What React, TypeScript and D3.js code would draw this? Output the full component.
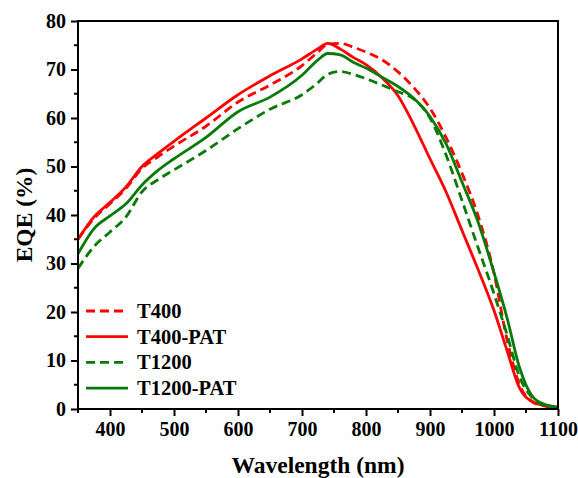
import * as d3 from "d3";
import { useEffect, useRef } from "react";

// shared wavelength grid (nm)
const wavelengths = [350, 375, 400, 425, 450, 475, 500, 550, 600, 650, 700, 725, 740, 760, 780, 800, 825, 850, 875, 900, 925, 950, 975, 1000, 1020, 1040, 1060, 1080, 1100];

const t400 = [35.0, 39.3, 42.3, 45.5, 49.6, 52.0, 54.2, 58.3, 63.3, 66.8, 70.8, 73.6, 75.2, 75.4, 74.6, 73.6, 72.0, 69.5, 66.2, 62.0, 56.0, 48.6, 39.9, 28.0, 14.5, 5.0, 1.5, 0.6, 0.3];
const t400pat = [35.0, 39.6, 42.6, 45.8, 50.0, 52.7, 55.2, 60.0, 64.8, 68.7, 72.2, 74.3, 75.4, 74.2, 72.5, 71.0, 68.3, 64.6, 58.5, 51.6, 44.8, 36.8, 28.8, 20.3, 12.2, 4.3, 1.5, 0.7, 0.4];
const t1200 = [29.0, 33.5, 36.5, 39.6, 44.8, 47.3, 49.3, 53.3, 57.8, 61.8, 64.8, 67.3, 69.0, 69.6, 69.0, 68.1, 66.8, 65.4, 63.9, 60.0, 52.4, 43.0, 33.3, 23.8, 15.5, 6.6, 2.3, 0.7, 0.3];
const t1200pat = [32.0, 37.2, 39.8, 42.3, 46.2, 49.2, 51.6, 56.0, 61.3, 64.3, 68.8, 72.0, 73.3, 73.0, 71.5, 70.3, 68.4, 66.5, 64.0, 60.3, 54.7, 46.8, 38.6, 28.1, 19.0, 8.5, 2.6, 0.9, 0.4];

const seriesNames = ["T400", "T400-PAT", "T1200", "T1200-PAT"];
const seriesValues = [t400, t400pat, t1200, t1200pat];
const seriesColors = ["#ff0000", "#ff0000", "#087a08", "#087a08"];
const seriesDashed = [true, false, true, false];

const xTicks = [400, 500, 600, 700, 800, 900, 1000, 1100];
const yTicks = [0, 10, 20, 30, 40, 50, 60, 70, 80];

const App = () => {
    const ref = useRef<SVGSVGElement>(null);

    useEffect(() => {
        const svg = d3.select(ref.current);
        svg.selectAll("*").remove();

        const left = 78, right = 558, top = 21, bottom = 409;
        const font = "'Liberation Serif', 'Times New Roman', serif";

        const x = d3.scaleLinear().domain([350, 1100]).range([left, right]);
        const y = d3.scaleLinear().domain([0, 80]).range([bottom, top]);

        const line = d3.line<number>()
            .x((d, i) => x(wavelengths[i]))
            .y((d) => y(d))
            .curve(d3.curveMonotoneX);

        const plot = svg.append("g");
        seriesValues.forEach((vals, i) => {
            plot.append("path")
                .datum(vals)
                .attr("d", line)
                .attr("fill", "none")
                .attr("stroke", seriesColors[i])
                .attr("stroke-width", 2.8)
                .attr("stroke-dasharray", seriesDashed[i] ? "9,5" : null);
        });

        // frame
        svg.append("rect")
            .attr("x", left).attr("y", top)
            .attr("width", right - left).attr("height", bottom - top)
            .attr("fill", "none").attr("stroke", "#000").attr("stroke-width", 2);

        // x axis
        const xAxis = svg.append("g").attr("transform", "translate(0," + bottom + ")");
        xAxis.call(d3.axisBottom(x).tickValues(xTicks).tickSize(7).tickFormat((d) => String(d)));
        xAxis.selectAll(".minor")
            .data(d3.range(350, 1101, 50).filter((v) => v % 100 !== 0))
            .join("line")
            .attr("x1", (d) => x(d)).attr("x2", (d) => x(d))
            .attr("y1", 0).attr("y2", 4)
            .attr("stroke", "#000").attr("stroke-width", 2);

        // y axis
        const yAxis = svg.append("g").attr("transform", "translate(" + left + ",0)");
        yAxis.call(d3.axisLeft(y).tickValues(yTicks).tickSize(7).tickFormat((d) => String(d)));
        yAxis.selectAll(".minor")
            .data(d3.range(5, 80, 10))
            .join("line")
            .attr("x1", 0).attr("x2", -4)
            .attr("y1", (d) => y(d)).attr("y2", (d) => y(d))
            .attr("stroke", "#000").attr("stroke-width", 2);

        svg.selectAll(".domain").remove();
        svg.selectAll(".tick line").attr("stroke", "#000").attr("stroke-width", 2);
        svg.selectAll(".tick text")
            .attr("font-family", font)
            .attr("font-weight", "bold")
            .attr("font-size", 20)
            .attr("fill", "#000");
        xAxis.selectAll(".tick text").attr("dy", "0.85em");
        yAxis.selectAll(".tick text").attr("dx", "-0.1em");

        svg.append("text")
            .attr("x", (left + right) / 2)
            .attr("y", 473)
            .attr("text-anchor", "middle")
            .attr("font-family", font)
            .attr("font-weight", "bold")
            .attr("font-size", 23.5)
            .text("Wavelength (nm)");

        svg.append("text")
            .attr("transform", "translate(32," + (top + bottom) / 2 + ") rotate(-90)")
            .attr("text-anchor", "middle")
            .attr("font-family", font)
            .attr("font-weight", "bold")
            .attr("font-size", 23.5)
            .text("EQE (%)");

        // legend
        const legend = svg.append("g");
        seriesNames.forEach((name, i) => {
            const ly = 311 + i * 25.7;
            legend.append("line")
                .attr("x1", 86).attr("x2", 128)
                .attr("y1", ly).attr("y2", ly)
                .attr("stroke", seriesColors[i])
                .attr("stroke-width", 2.8)
                .attr("stroke-dasharray", seriesDashed[i] ? "9,5" : null);
            legend.append("text")
                .attr("x", 137)
                .attr("y", ly + 7)
                .attr("font-family", font)
                .attr("font-weight", "bold")
                .attr("font-size", 20.5)
                .text(name);
        });
    }, []);

    return (
        <svg ref={ref} width={578} height={478} style={{ display: "block", position: "absolute", left: 0, top: 0 }} />
    );
};

export default App;
